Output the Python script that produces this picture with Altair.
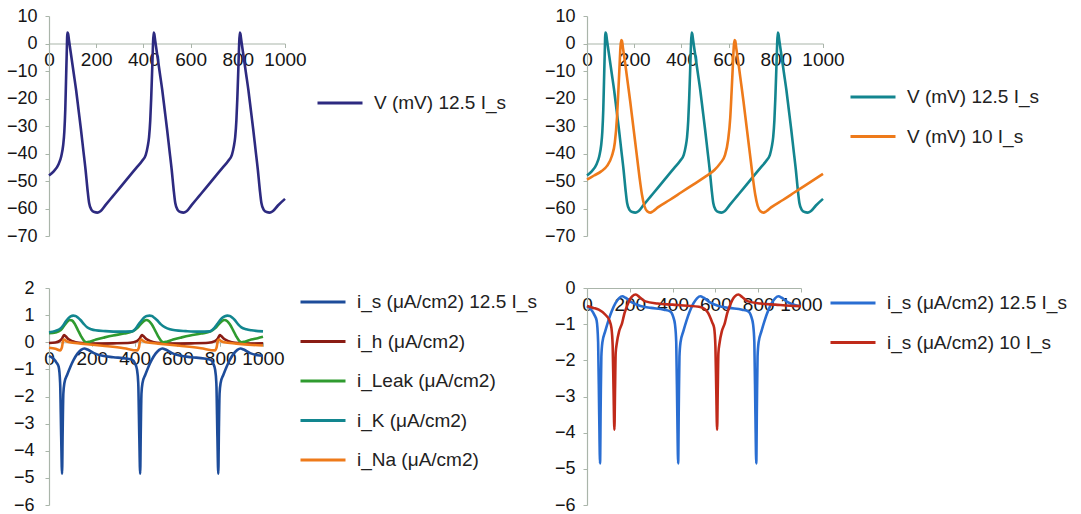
import altair as alt
import pandas as pd

# ---------------- data ----------------
# Membrane potential, 12.5 I_s
v125_t = [0, 20, 40, 52, 60, 65, 69, 72, 75, 78, 81, 85, 95, 105, 115, 125, 135, 145, 155, 163,
          170, 180, 192, 205, 218, 240, 270, 300, 340, 370, 395, 410, 418, 424, 429, 433, 437, 440, 443,
          446, 450, 460, 470, 480, 490, 500, 510, 520, 528, 535, 545, 557, 570, 583, 605, 635, 665,
          705, 735, 760, 775, 783, 789, 794, 798, 802, 805, 808, 811, 815, 825, 835, 845, 855, 865, 875,
          885, 893, 900, 910, 922, 935, 948, 970, 1000]
v125_v = [-48, -46.5, -44, -41, -37, -32, -24, -14, -4, 4, 3.5, 1, -5, -11, -17, -24, -31, -38.5, -46, -53,
          -58, -60.5, -61.3, -61.5, -61, -58.7, -55.6, -52.5, -48.3, -45.2, -42.6, -40.5, -37.5, -34, -28, -20, -10, -2, 4,
          3.5, 1, -5, -11, -17, -24, -31, -38.5, -46, -53, -58, -60.5, -61.3, -61.5, -61, -58.7, -55.6, -52.5,
          -48.3, -45.2, -42.6, -40.5, -37.5, -34, -28, -20, -10, -2, 4, 3.5, 1, -5, -11, -17, -24, -31, -38.5,
          -46, -53, -58, -60.5, -61.3, -61.5, -61, -58.9, -56.5]

# Membrane potential, 10 I_s
v10_t = [0, 30, 60, 85, 105, 118, 127, 133, 138, 142, 145, 148, 153, 163, 173, 183, 193, 203, 213, 223,
         233, 243, 255, 268, 280, 300, 350, 400, 450, 500, 540, 565, 585, 598, 607, 613, 618, 622, 625,
         628, 633, 643, 653, 663, 673, 683, 693, 703, 713, 723, 735, 748, 760, 780, 830, 880, 930, 1000]
v10_v = [-49.5, -48, -46.5, -44.5, -41, -36, -27, -17, -8, -1, 1.3, 1, -2, -8, -14.5, -21, -28, -35, -42, -49,
         -55, -59, -61, -61.5, -61, -59.6, -56.9, -54.1, -51.3, -48.5, -46, -43.5, -40.5, -35, -27, -17, -8, -1, 1.3,
         1, -2, -8, -14.5, -21, -28, -35, -42, -49, -55, -59, -61, -61.5, -61, -59.6, -56.9, -54.1, -51.3, -47.4]

# i_s, 12.5 I_s
is125_t = [0, 20, 35, 45, 52, 57, 61, 64, 67, 72, 85, 100, 115, 133, 150, 165, 180, 210, 250, 300,
           360, 390, 403, 411, 417, 422, 426, 429, 432, 437, 450, 465, 480, 498, 515, 530, 545, 575, 615, 665,
           725, 755, 768, 776, 782, 787, 791, 794, 797, 802, 815, 830, 845, 863, 880, 895, 910, 940, 975, 1000]
is125_v = [-0.5, -0.6, -0.75, -0.9, -1.5, -3.5, -4.85, -3.2, -1.9, -1.5, -1.2, -0.9, -0.65, -0.42, -0.28, -0.23, -0.27, -0.4, -0.5, -0.55,
           -0.6, -0.65, -0.8, -1.0, -1.5, -3.5, -4.85, -3.2, -1.9, -1.5, -1.2, -0.9, -0.65, -0.42, -0.28, -0.23, -0.27, -0.4, -0.5, -0.55,
           -0.6, -0.65, -0.8, -1.0, -1.5, -3.5, -4.85, -3.2, -1.9, -1.5, -1.2, -0.9, -0.65, -0.42, -0.28, -0.23, -0.27, -0.4, -0.48, -0.5]

# i_s, 10 I_s
is10_t = [0, 30, 55, 86, 105, 114, 120, 124, 128, 131, 134, 140, 150, 164, 175, 187, 200, 211, 228, 245,
          273, 330, 400, 470, 523, 550, 565, 585, 594, 600, 604, 608, 611, 614, 620, 630, 644, 655, 667, 680,
          691, 708, 725, 753, 810, 880, 950, 1000]
is10_v = [-0.5, -0.55, -0.6, -0.74, -0.9, -1.1, -1.6, -2.8, -3.92, -2.8, -1.8, -1.5, -1.2, -0.97, -0.7, -0.5, -0.32, -0.23, -0.18, -0.25,
          -0.37, -0.43, -0.46, -0.49, -0.52, -0.58, -0.68, -0.95, -1.1, -1.6, -2.8, -3.92, -2.8, -1.8, -1.5, -1.2, -0.97, -0.7, -0.5, -0.32,
          -0.23, -0.18, -0.25, -0.37, -0.43, -0.46, -0.49, -0.5]

# i_h
ih_t = [0, 30, 50, 62, 70, 78, 90, 110, 140, 200, 300, 380, 410, 425, 434, 442, 455, 475, 505, 565,
        665, 745, 775, 790, 798, 806, 819, 839, 869, 930, 1000]
ih_v = [-0.03, -0.01, 0.05, 0.15, 0.27, 0.22, 0.12, 0.04, -0.02, -0.05, -0.04, -0.02, 0.04, 0.15, 0.27, 0.22, 0.12, 0.04, -0.02, -0.05,
        -0.04, -0.02, 0.04, 0.15, 0.27, 0.22, 0.12, 0.04, -0.02, -0.05, -0.04]

# i_Leak
il_t = [0, 30, 55, 70, 85, 97, 108, 120, 135, 150, 163, 175, 190, 220, 260, 300, 350, 390, 412, 428,
        443, 455, 467, 480, 495, 510, 523, 535, 550, 580, 620, 660, 710, 755, 777, 793, 808, 820, 832, 845,
        860, 875, 888, 900, 915, 945, 975, 1000]
il_v = [0.33, 0.36, 0.45, 0.6, 0.75, 0.82, 0.8, 0.68, 0.45, 0.22, 0.06, 0.0, 0.02, 0.1, 0.18, 0.25, 0.32, 0.4, 0.52, 0.66,
        0.78, 0.82, 0.78, 0.66, 0.45, 0.22, 0.06, 0.0, 0.02, 0.1, 0.18, 0.25, 0.32, 0.4, 0.52, 0.66, 0.78, 0.82, 0.78, 0.66,
        0.45, 0.22, 0.06, 0.0, 0.02, 0.1, 0.15, 0.2]

# i_K
ik_t = [0, 30, 54, 66, 78, 90, 101, 113, 124, 136, 147, 162, 178, 197, 217, 264, 330, 388, 400, 411,
        422, 434, 446, 457, 470, 481, 492, 504, 523, 543, 565, 589, 640, 700, 752, 764, 775, 787, 798, 810,
        822, 834, 845, 857, 868, 884, 899, 922, 946, 1000]
ik_v = [0.37, 0.42, 0.51, 0.62, 0.76, 0.88, 0.95, 0.98, 0.97, 0.9, 0.82, 0.68, 0.55, 0.48, 0.44, 0.41, 0.39, 0.4, 0.46, 0.57,
        0.7, 0.82, 0.92, 0.97, 0.98, 0.97, 0.9, 0.82, 0.66, 0.55, 0.48, 0.44, 0.41, 0.39, 0.4, 0.46, 0.55, 0.68, 0.8, 0.9,
        0.96, 0.98, 0.97, 0.9, 0.82, 0.66, 0.55, 0.48, 0.44, 0.4]

# i_Na
ina_t = [0, 30, 52, 60, 66, 72, 80, 95, 150, 250, 350, 412, 420, 426, 432, 440, 455, 510, 610, 710,
         775, 783, 789, 795, 803, 818, 875, 950, 1000]
ina_v = [-0.2, -0.24, -0.3, -0.2, 0.05, 0.1, 0.05, 0.0, -0.05, -0.13, -0.22, -0.3, -0.2, 0.05, 0.1, 0.05, 0.0, -0.05, -0.13, -0.22,
         -0.3, -0.2, 0.05, 0.1, 0.05, 0.0, -0.05, -0.1, -0.12]

x_ticks = [0, 200, 400, 600, 800, 1000]
v_ticks = [10, 0, -10, -20, -30, -40, -50, -60, -70]
i3_ticks = [2, 1, 0, -1, -2, -3, -4, -5, -6]
i4_ticks = [0, -1, -2, -3, -4, -5, -6]

L_V125 = "V (mV) 12.5 I_s"
L_V10 = "V (mV) 10 I_s"
L_IS125 = "i_s (\u03bcA/cm2) 12.5 I_s"
L_IS10 = "i_s (\u03bcA/cm2) 10 I_s"
L_IH = "i_h (\u03bcA/cm2)"
L_IL = "i_Leak (\u03bcA/cm2)"
L_IK = "i_K (\u03bcA/cm2)"
L_INA = "i_Na (\u03bcA/cm2)"

FONT = "Liberation Sans"
AXC = "#aab5aa"


def long_df(series):
    rows = []
    for name, ts, vs in series:
        for t, v in zip(ts, vs):
            rows.append({"t": t, "v": v, "s": name})
    return pd.DataFrame(rows)


def panel(df, names, colors, ydom, yvals, w, h, lx, ly, ypad):
    ymax, ymin = ydom[1], ydom[0]
    zero_from_top = h * (ymax - 0) / (ymax - ymin)
    xoff = -(h - zero_from_top)
    x = alt.X("t:Q", scale=alt.Scale(domain=[0, 1000], nice=False, zero=False),
              axis=alt.Axis(values=x_ticks, orient="bottom", offset=xoff, title=None, grid=False,
                            labelFlush=False, labelOverlap=False, labelFontSize=19, labelFont=FONT,
                            labelColor="#151515", labelPadding=3, tickSize=4, tickColor=AXC,
                            domainColor=AXC, domainWidth=1.2, format="d"))
    y = alt.Y("v:Q", scale=alt.Scale(domain=ydom, nice=False, zero=False),
              axis=alt.Axis(values=yvals, title=None, grid=False, labelFontSize=18, labelFont=FONT,
                            labelColor="#151515", labelPadding=ypad, tickSize=4, tickColor=AXC,
                            domainColor=AXC, domainWidth=1.2, labelOverlap=False, labelFlush=False))
    color = alt.Color("s:N", sort=names, scale=alt.Scale(domain=names, range=colors),
                      legend=alt.Legend(orient="none", legendX=lx, legendY=ly, title=None,
                                        labelFontSize=19, labelFont=FONT, labelColor="#222222",
                                        labelOffset=10, labelLimit=400, symbolType="stroke",
                                        symbolSize=2025, symbolStrokeWidth=3, rowPadding=5.5,
                                        padding=0))
    return (alt.Chart(df).mark_line(strokeWidth=2.6, interpolate="monotone")
            .encode(x=x, y=y, color=color)
            .properties(width=w, height=h,
                        view=alt.ViewBackground(stroke="transparent", strokeWidth=0)))


df1 = long_df([(L_V125, v125_t, v125_v)])
df2 = long_df([(L_V125, v125_t, v125_v), (L_V10, v10_t, v10_v)])
df3 = long_df([(L_IH, ih_t, ih_v), (L_IL, il_t, il_v), (L_IK, ik_t, ik_v), (L_INA, ina_t, ina_v),
               (L_IS125, is125_t, is125_v)])
df4 = long_df([(L_IS125, is125_t, is125_v), (L_IS10, is10_t, is10_v)])

p1 = panel(df1, [L_V125], ["#2d2a80"], [-70, 10], v_ticks, 236, 220, 267, 63, 8)
p2 = panel(df2, [L_V125, L_V10], ["#13858f", "#ee7a1a"], [-70, 10], v_ticks, 236, 220, 262, 57, 8)
p3 = panel(df3, [L_IS125, L_IH, L_IL, L_IK, L_INA],
           ["#1d4c9a", "#8a1c14", "#2f9b2f", "#12868f", "#ee7a1a"],
           [-6, 2], i3_ticks, 214, 217, 250, -10, 11)
p4 = panel(df4, [L_IS125, L_IS10], ["#2a6ed2", "#c02a1a"], [-6, 0], i4_ticks, 214, 217, 242, -9, 8)

chart = (alt.concat(p1, p2, p3, p4, columns=2, spacing={"row": 52, "column": 302}, bounds="flush")
         .resolve_scale(color="independent")
         .properties(padding={"left": 6, "top": 7, "right": 5, "bottom": 0}, background="white")
         .configure_view(stroke="transparent", strokeWidth=0)
         .configure(font=FONT))

chart.save("out.html", embed_options={"renderer": "svg", "actions": False})
